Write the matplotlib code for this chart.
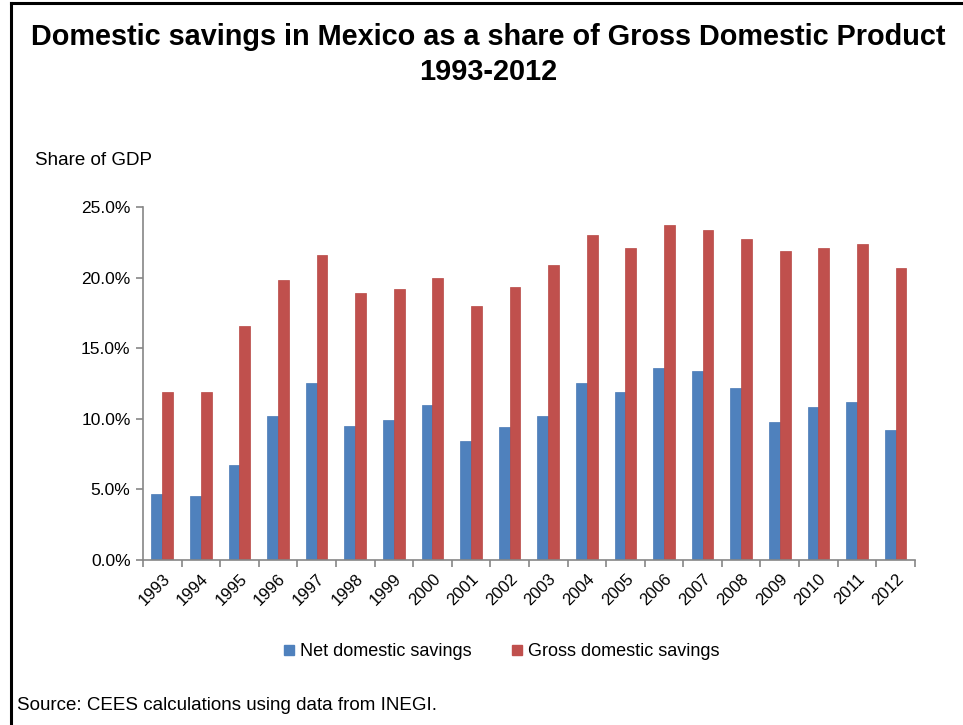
import numpy as np
import matplotlib
matplotlib.use("Agg")
import matplotlib.pyplot as plt
from matplotlib.lines import Line2D
from matplotlib.ticker import FuncFormatter

# values (% of GDP)
years = [str(y) for y in range(1993, 2013)]
net_savings = [4.7, 4.5, 6.7, 10.2, 12.5, 9.5, 9.9, 11.0, 8.4, 9.4,
               10.2, 12.5, 11.9, 13.6, 13.4, 12.2, 9.8, 10.8, 11.2, 9.2]
gross_savings = [11.9, 11.9, 16.6, 19.8, 21.6, 18.9, 19.2, 20.0, 18.0, 19.3,
                 20.9, 23.0, 22.1, 23.7, 23.4, 22.7, 21.9, 22.1, 22.4, 20.7]
y_ticks = [0, 5, 10, 15, 20, 25]

blue = "#4F81BD"
red = "#C0504D"
grey = "#868686"

plt.rcParams['font.family'] = ['Liberation Sans', 'DejaVu Sans']

fig = plt.figure(figsize=(9.63, 7.25), dpi=100)
ax = fig.add_axes([0.1485, 0.2276, 0.8015, 0.4869])

x = np.arange(len(years))
w = 0.28
ax.bar(x - w / 2, net_savings, w, color=blue, edgecolor="#4A7AB5", linewidth=0.5)
ax.bar(x + w / 2, gross_savings, w, color=red, edgecolor="#B84744", linewidth=0.5)

ax.set_xlim(-0.5, len(years) - 0.5)
ax.set_ylim(0, 25)
ax.set_yticks(y_ticks)
ax.yaxis.set_major_formatter(FuncFormatter(lambda v, p: f"{v:.1f}%"))

# category labels at centres, tick marks at the boundaries
ax.set_xticks(x)
ax.set_xticklabels(years, rotation=45, ha="right", rotation_mode="anchor", fontsize=12)
ax.set_xticks(np.arange(len(years) + 1) - 0.5, minor=True)
ax.tick_params(axis="x", which="major", length=0, pad=8)
ax.tick_params(axis="x", which="minor", length=5, color=grey, width=1.2)
ax.tick_params(axis="y", length=5, color=grey, width=1.2, labelsize=12.5, pad=4)

for s in ["top", "right"]:
    ax.spines[s].set_visible(False)
for s in ["left", "bottom"]:
    ax.spines[s].set_color(grey)
    ax.spines[s].set_linewidth(1.2)

fig.text(0.507, 0.949, "Domestic savings in Mexico as a share of Gross Domestic Product",
         ha="center", va="center", fontsize=20.8, fontweight="bold")
fig.text(0.507, 0.900, "1993-2012", ha="center", va="center", fontsize=20.8, fontweight="bold")
fig.text(0.036, 0.779, "Share of GDP", ha="left", va="center", fontsize=13.5)
fig.text(0.018, 0.027, "Source: CEES calculations using data from INEGI.",
         ha="left", va="center", fontsize=13.5)

handles = [Line2D([], [], marker="s", linestyle="none", markersize=7, color=blue),
           Line2D([], [], marker="s", linestyle="none", markersize=7, color=red)]
fig.legend(handles, ["Net domestic savings", "Gross domestic savings"],
           loc="center", bbox_to_anchor=(0.521, 0.1007), ncol=2, frameon=False,
           fontsize=13, handlelength=0.6, handletextpad=0.3, columnspacing=2.2)

# frame lines at the top and left edge
fig.add_artist(Line2D([0.011, 1.0], [0.996, 0.996], color="black", lw=2.2,
                      transform=fig.transFigure))
fig.add_artist(Line2D([0.011, 0.011], [0.0, 0.996], color="black", lw=2.2,
                      transform=fig.transFigure))

fig.savefig("out.png", dpi=100)
